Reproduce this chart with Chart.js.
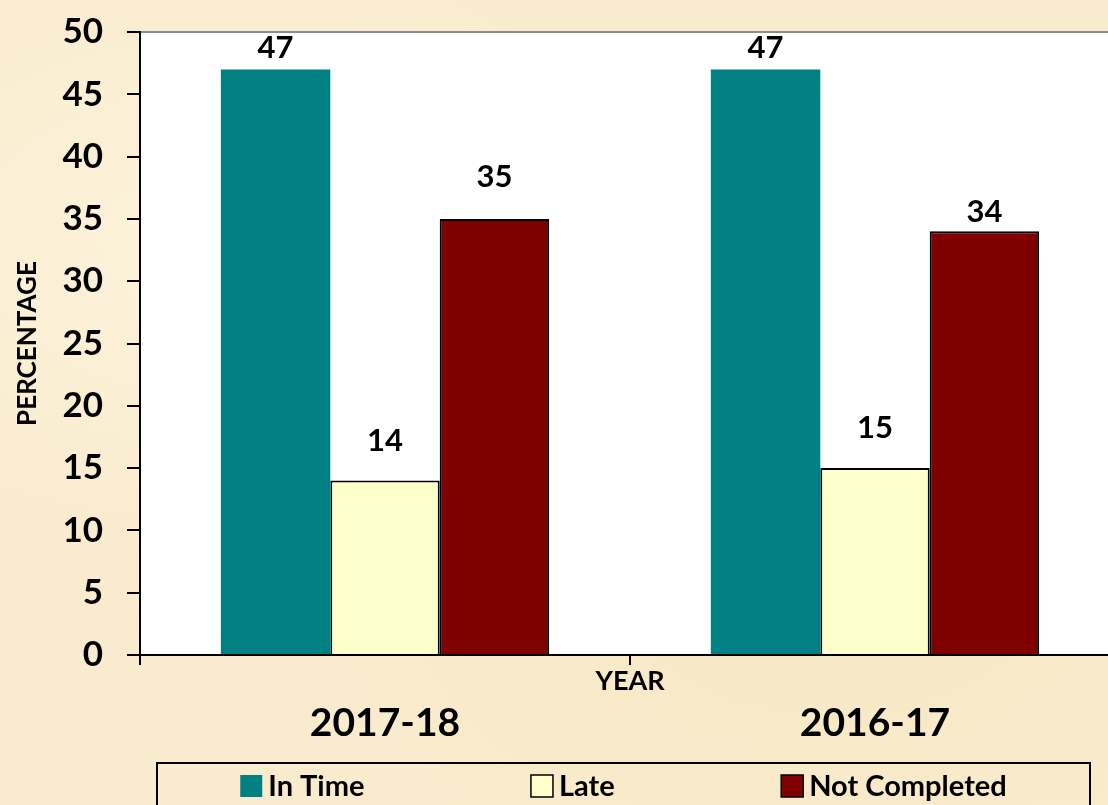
<!DOCTYPE html>
<html>
<head>
<meta charset="utf-8">
<script src="https://cdn.jsdelivr.net/npm/chart.js@4.4.1/dist/chart.umd.min.js"></script>
<style>
  html, body { margin: 0; padding: 0; overflow: hidden; }
  body {
    background-color: #F9EBCD;
    background-image:
      radial-gradient(ellipse at 20% 30%, rgba(255,248,230,0.6), rgba(255,248,230,0) 40%),
      radial-gradient(ellipse at 75% 70%, rgba(245,228,190,0.5), rgba(245,228,190,0) 45%);
  }
  #wrap { width: 1130px; height: 805px; }
</style>
</head>
<body>
<div id="wrap"><canvas id="chart" width="1130" height="805"></canvas></div>
<script>
// data
const years = ['2017-18', '2016-17'];
const inTime = [47, 47];
const late = [14, 15];
const notCompleted = [35, 34];
const yTickValues = [0, 5, 10, 15, 20, 25, 30, 35, 40, 45, 50];

const FONT = 'Lato, "Open Sans", "Noto Sans", sans-serif';
Chart.defaults.font.family = FONT;
Chart.defaults.color = '#000';

// how far above each bar top the value label sits (label centre)
const labelLift = [[21, 21], [40, 40], [42, 19]];

// white plot area + grey top edge
const plotBg = {
    id: 'plotBg',
    beforeDraw(chart) {
        const { ctx, chartArea: a } = chart;
        ctx.save();
        ctx.fillStyle = '#fff';
        ctx.fillRect(a.left, a.top, a.right - a.left, a.bottom - a.top);
        ctx.strokeStyle = '#8c8c8c';
        ctx.lineWidth = 2;
        ctx.beginPath();
        ctx.moveTo(a.left, a.top);
        ctx.lineTo(a.right, a.top);
        ctx.stroke();
        ctx.restore();
    }
};

// value labels above bars
const barValues = {
    id: 'barValues',
    afterDatasetsDraw(chart) {
        const { ctx } = chart;
        ctx.save();
        ctx.font = 'bold 31px ' + FONT;
        ctx.fillStyle = '#000';
        ctx.textAlign = 'center';
        ctx.textBaseline = 'middle';
        chart.data.datasets.forEach((ds, i) => {
            chart.getDatasetMeta(i).data.forEach((bar, j) => {
                ctx.fillText(ds.data[j], bar.x, bar.y - labelLift[i][j]);
            });
        });
        ctx.restore();
    }
};

// boxed legend along the bottom, items spread evenly
const boxLegend = {
    id: 'boxLegend',
    afterDraw(chart) {
        const { ctx } = chart;
        const left = 157, right = 1090, top = 763, cy = 786, sw = 22, gap = 6;
        ctx.save();
        ctx.strokeStyle = '#000';
        ctx.lineWidth = 2;
        ctx.strokeRect(left, top, right - left, chart.height - top + 10);
        ctx.font = 'bold 29px ' + FONT;
        ctx.textBaseline = 'middle';
        ctx.textAlign = 'left';
        const items = chart.data.datasets.map(ds => ({
            ds, w: sw + gap + ctx.measureText(ds.label).width
        }));
        const used = items.reduce((s, it) => s + it.w, 0);
        const slot = (right - left - used) / items.length;
        let x = left + slot / 2;
        items.forEach(({ ds, w }) => {
            ctx.fillStyle = ds.backgroundColor;
            ctx.fillRect(x, cy - sw / 2, sw, sw);
            if (ds.borderWidth) {
                ctx.lineWidth = 1.5;
                ctx.strokeStyle = '#000';
                ctx.strokeRect(x, cy - sw / 2, sw, sw);
            }
            ctx.fillStyle = '#000';
            ctx.fillText(ds.label, x + sw + gap, cy + 1);
            x += w + slot;
        });
        ctx.restore();
    }
};

const ctx = document.getElementById('chart').getContext('2d');
new Chart(ctx, {
    type: 'bar',
    data: {
        labels: years,
        datasets: [
            { label: 'In Time', data: inTime, backgroundColor: '#008080', borderWidth: 0 },
            { label: 'Late', data: late, backgroundColor: '#FFFFCC', borderColor: '#000', borderWidth: 2 },
            { label: 'Not Completed', data: notCompleted, backgroundColor: '#800000', borderColor: '#000', borderWidth: 2 }
        ]
    },
    options: {
        responsive: false,
        animation: false,
        categoryPercentage: 0.67,
        barPercentage: 1.0,
        layout: { padding: { top: 32, bottom: 45, left: 0, right: 10 } },
        plugins: {
            legend: { display: false },
            tooltip: { enabled: false }
        },
        scales: {
            x2: {
                type: 'category',
                position: 'bottom',
                weight: 0,
                offset: true,
                ticks: { display: false },
                grid: { drawOnChartArea: false, offset: true, tickLength: 10, color: '#000', lineWidth: 2 },
                border: { color: '#000', width: 2 },
                title: {
                    display: true, text: 'YEAR', color: '#000',
                    font: { size: 27, weight: 'bold' },
                    padding: { top: 0, bottom: 3 }
                },
                afterFit: s => { s.height = 45; }
            },
            x: {
                position: 'bottom',
                weight: 1,
                grid: { display: false, drawTicks: false },
                border: { display: false },
                ticks: {
                    color: '#000', padding: 0, maxRotation: 0, autoSkip: false,
                    font: { size: 39, weight: 'bold' }
                },
                afterFit: s => { s.height = 60; }
            },
            y: {
                min: 0,
                max: 50,
                afterBuildTicks: s => { s.ticks = yTickValues.map(v => ({ value: v })); },
                ticks: { color: '#000', padding: 24, font: { size: 35, weight: 'bold' } },
                grid: { drawOnChartArea: false, tickLength: 13, color: '#000', lineWidth: 2 },
                border: { color: '#000', width: 2 },
                title: {
                    display: true, text: 'PERCENTAGE', color: '#000',
                    font: { size: 26, weight: 'bold' },
                    padding: { top: 12, bottom: 0 }
                },
                afterFit: s => { s.width = 140; s.paddingTop = 0; s.paddingBottom = 0; }
            }
        }
    },
    plugins: [plotBg, barValues, boxLegend]
});
</script>
</body>
</html>
